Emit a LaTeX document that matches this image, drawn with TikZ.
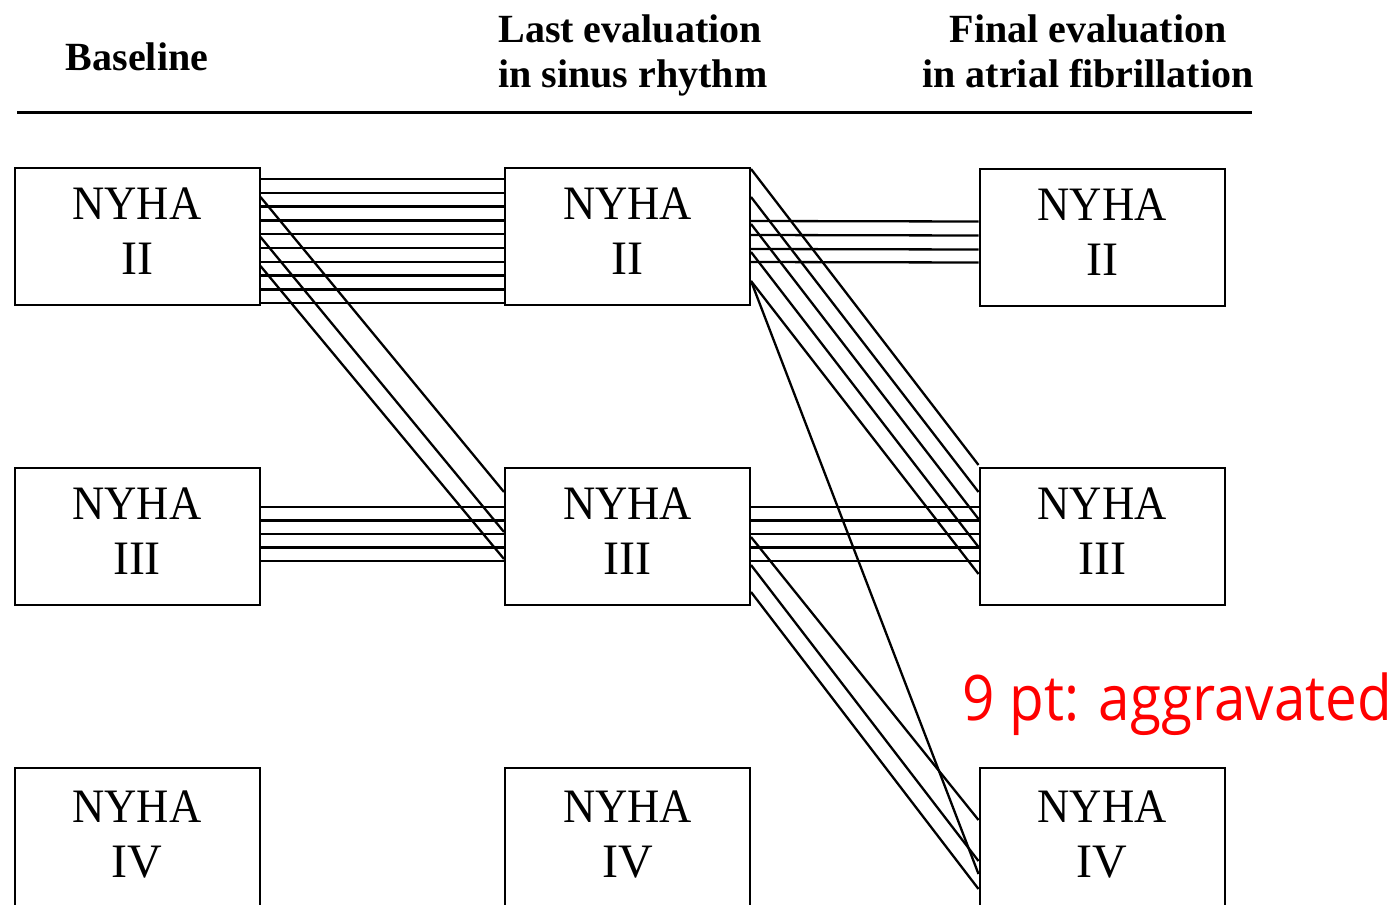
\documentclass[tikz,border=0pt]{standalone}
\usepackage{fontspec}
\setmainfont{Liberation Serif}
\newfontfamily\annotfont{Open Sans}
\usetikzlibrary{calc}
\begin{document}
\begin{tikzpicture}[x=0.5pt,y=-0.5pt,
  nyha/.style={draw, line width=1pt, minimum width=122.5pt, minimum height=68.5pt,
    inner sep=0pt, align=center, font=\fontsize{24pt}{27.5pt}\selectfont, text depth=5pt},
  conn/.style={line width=1.15pt},
  head/.style={font=\bfseries\fontsize{20pt}{21.5pt}\selectfont, inner sep=0pt, anchor=base},
  rule/.style={line width=1.5pt}]
\useasboundingbox (0,0) rectangle (1400,904);
\clip (0,0) rectangle (1400,904);

% headings
\node[head] (hb) at (137,70) {Baseline};
\node[head, anchor=base west] (hl1) at (498,43) {Last evaluation};
\node[head, anchor=base west] (hl2) at (498,88) {in sinus rhythm};
\node[head] (hf1) at (1088,43) {Final evaluation};
\node[head] (hf2) at (1088,88) {in atrial fibrillation};
\coordinate (rl) at (17,112);
\coordinate (rr) at (1252,112);
\draw[rule] (rl) -- (rr);

% boxes
\node[nyha] (A1) at (137,236.5) {\scalebox{0.93}[1]{NYHA}\\II};
\node[nyha] (A2) at (137,536.5) {\scalebox{0.93}[1]{NYHA}\\III};
\node[nyha, minimum height=71pt] (A3) at (137,839) {\scalebox{0.93}[1]{NYHA}\\IV};
\node[nyha] (B1) at (627.5,236.5) {\scalebox{0.93}[1]{NYHA}\\II};
\node[nyha] (B2) at (627.5,536.5) {\scalebox{0.93}[1]{NYHA}\\III};
\node[nyha, minimum height=71pt] (B3) at (627.5,839) {\scalebox{0.93}[1]{NYHA}\\IV};
\node[nyha] (C1) at (1102,237) {\scalebox{0.93}[1]{NYHA}\\II};
\node[nyha] (C2) at (1102,536.5) {\scalebox{0.93}[1]{NYHA}\\III};
\node[nyha, minimum height=71pt] (C3) at (1102,839) {\scalebox{0.93}[1]{NYHA}\\IV};

% baseline II -> sinus II
\foreach \d in {12,25.8,39.6,53.4,67.2,81,94.8,108.6,122.4,136.2}
  \draw[conn] ($(A1.north east)+(0,\d)$) -- ($(B1.north west)+(0,\d)$);
% baseline II -> sinus III
\foreach \s/\e in {30/25,70/65,99/92}
  \draw[conn] ($(A1.north east)+(0,\s)$) -- ($(B2.north west)+(0,\e)$);
% baseline III -> sinus III
\foreach \d in {40,53.5,67,80.5,94}
  \draw[conn] ($(A2.north east)+(0,\d)$) -- ($(B2.north west)+(0,\d)$);
% sinus II -> AF II
\foreach \d in {54,68,82,95}
  \draw[conn] ($(B1.north east)+(0,\d)$) -- ($(C1.north west)+(0,\d)$);
% sinus II -> AF III
\foreach \s/\e in {2/-2,30/25,57/52,85/80,114/107}
  \draw[conn] ($(B1.north east)+(0,\s)$) -- ($(C2.north west)+(0,\e)$);
% sinus II -> AF IV
\draw[conn] ($(B1.north east)+(0,114)$) -- ($(C3.north west)+(0,107)$);
% sinus III -> AF III
\foreach \d in {40,53.5,67,80.5,94}
  \draw[conn] ($(B2.north east)+(0,\d)$) -- ($(C2.north west)+(0,\d)$);
% sinus III -> AF IV
\foreach \s/\e in {70/53,98/94,125/122}
  \draw[conn] ($(B2.north east)+(0,\s)$) -- ($(C3.north west)+(0,\e)$);

% annotation
\node[anchor=base west, inner sep=0pt, text=red,
  font=\annotfont\fontsize{28.3pt}{30pt}\selectfont] (note) at (962,720)
  {\scalebox{1}[1.11]{9 pt: aggravated}};
\end{tikzpicture}
\end{document}
